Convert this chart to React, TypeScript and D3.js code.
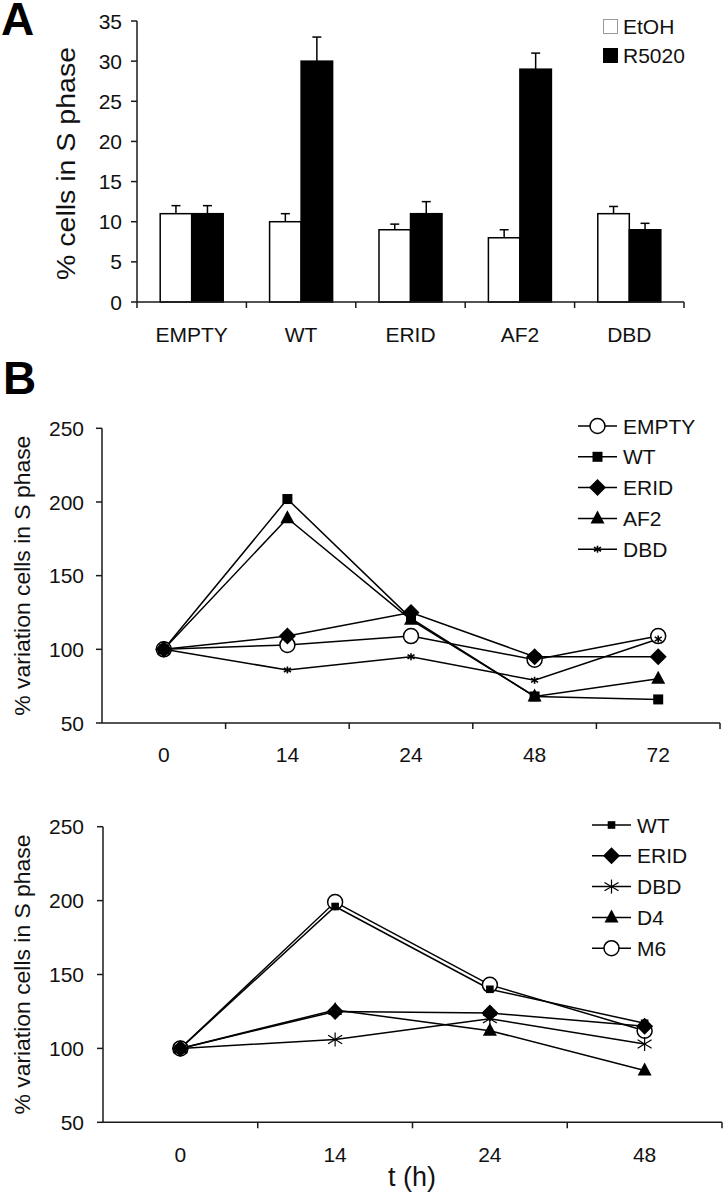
import React from "react";
import * as d3 from "d3";

// ---------- Panel A data ----------
const barCategories = ["EMPTY", "WT", "ERID", "AF2", "DBD"];
const etohValues = [11, 10, 9, 8, 11];
const etohErrors = [1, 1, 0.7, 1, 0.9];
const r5020Values = [11, 30, 11, 29, 9];
const r5020Errors = [1, 3, 1.5, 2, 0.8];
const barTicks = [0, 5, 10, 15, 20, 25, 30, 35];

// ---------- Panel B top data ----------
const topTimes = ["0", "14", "24", "48", "72"];
const topEMPTY = [100, 103, 109, 93, 109];
const topWT = [100, 202, 121, 68, 66];
const topERID = [100, 109, 125, 95, 95];
const topAF2 = [100, 189, 120, 68, 80];
const topDBD = [100, 86, 95, 79, 107];

// ---------- Panel B bottom data ----------
const botTimes = ["0", "14", "24", "48"];
const botWT = [100, 196, 140, 117];
const botERID = [100, 125, 124, 115];
const botDBD = [100, 106, 120, 103];
const botD4 = [100, 126, 112, 85];
const botM6 = [100, 199, 143, 112];

const lineTicks = [50, 100, 150, 200, 250];

const FONT = "'Liberation Sans', Arial, Helvetica, sans-serif";
const AX = "#1a1a1a";

type MarkerKind = "circle" | "square" | "smallsquare" | "diamond" | "triangle" | "smallstar" | "star";

function Marker({ kind, x, y }: { kind: MarkerKind; x: number; y: number }) {
  switch (kind) {
    case "circle":
      return <circle cx={x} cy={y} r={7.5} fill="#fff" stroke="#000" strokeWidth={1.5} />;
    case "square":
      return <rect x={x - 5} y={y - 5} width={10} height={10} fill="#000" />;
    case "smallsquare":
      return <rect x={x - 3.8} y={y - 3.8} width={7.6} height={7.6} fill="#000" />;
    case "diamond":
      return <path d={`M${x},${y - 8.5}L${x + 8.5},${y}L${x},${y + 8.5}L${x - 8.5},${y}Z`} fill="#000" />;
    case "triangle":
      return <path d={`M${x},${y - 8}L${x + 7},${y + 5}L${x - 7},${y + 5}Z`} fill="#000" />;
    case "smallstar": {
      const s = 3.5;
      return (
        <g stroke="#000" strokeWidth={1.6}>
          <line x1={x} y1={y - s} x2={x} y2={y + s} />
          <line x1={x - s} y1={y - s * 0.6} x2={x + s} y2={y + s * 0.6} />
          <line x1={x - s} y1={y + s * 0.6} x2={x + s} y2={y - s * 0.6} />
        </g>
      );
    }
    case "star": {
      const s = 7;
      return (
        <g stroke="#000" strokeWidth={1.2}>
          <line x1={x} y1={y - s} x2={x} y2={y + s} />
          <line x1={x - s} y1={y - s * 0.6} x2={x + s} y2={y + s * 0.6} />
          <line x1={x - s} y1={y + s * 0.6} x2={x + s} y2={y - s * 0.6} />
        </g>
      );
    }
  }
  return null;
}

function BarPanel() {
  const x = d3.scaleBand<string>().domain(barCategories).range([137, 684]).padding(0);
  const y = d3.scaleLinear().domain([0, 35]).range([302, 21]);
  const bw = x.bandwidth();
  const barW = bw * 0.288;
  const capW = 9;
  const bounds = [...barCategories.map((c) => x(c)!), 684];
  return (
    <g>
      {barCategories.map((c, i) => {
        const cx = x(c)! + bw / 2;
        const series = [
          { v: etohValues[i], e: etohErrors[i], fill: "#fff", x0: cx - barW },
          { v: r5020Values[i], e: r5020Errors[i], fill: "#000", x0: cx },
        ];
        return (
          <g key={c}>
            {series.map((s, j) => {
              const mx = s.x0 + barW / 2;
              return (
                <g key={j}>
                  <line x1={mx} x2={mx} y1={y(s.v)} y2={y(s.v + s.e)} stroke="#000" strokeWidth={1.5} />
                  <line x1={mx - capW / 2} x2={mx + capW / 2} y1={y(s.v + s.e)} y2={y(s.v + s.e)} stroke="#000" strokeWidth={1.5} />
                  <rect x={s.x0} y={y(s.v)} width={barW} height={y(0) - y(s.v)} fill={s.fill} stroke="#000" strokeWidth={1.5} />
                </g>
              );
            })}
          </g>
        );
      })}
      {/* y axis */}
      <line x1={137} x2={137} y1={y(35)} y2={y(0)} stroke={AX} strokeWidth={1.5} />
      {barTicks.map((t) => (
        <g key={t}>
          <line x1={131} x2={137} y1={y(t)} y2={y(t)} stroke={AX} strokeWidth={1.5} />
          <text x={122} y={y(t)} dy="0.36em" textAnchor="end" fontSize={21} fontFamily={FONT} fill="#111">
            {t}
          </text>
        </g>
      ))}
      {/* x axis */}
      <line x1={137} x2={684} y1={y(0)} y2={y(0)} stroke={AX} strokeWidth={1.5} />
      {bounds.map((b, i) => (
        <line key={i} x1={b} x2={b} y1={y(0)} y2={y(0) + 6} stroke={AX} strokeWidth={1.5} />
      ))}
      {barCategories.map((c) => (
        <text key={c} x={x(c)! + bw / 2} y={342} textAnchor="middle" fontSize={21} fontFamily={FONT} fill="#111">
          {c}
        </text>
      ))}
      <text
        transform={`translate(75,${(47 + 280) / 2}) rotate(-90)`}
        textAnchor="middle"
        fontSize={26}
        fontFamily={FONT}
        fill="#111"
        textLength={233}
        lengthAdjust="spacingAndGlyphs"
      >
        % cells in S phase
      </text>
      {/* legend */}
      <rect x={603.5} y={19.5} width={14} height={14} fill="#fff" stroke="#999" strokeWidth={1} />
      <text x={623} y={34} fontSize={21} fontFamily={FONT} fill="#111">EtOH</text>
      <rect x={603} y={48} width={15} height={15} fill="#000" />
      <text x={623} y={63} fontSize={21} fontFamily={FONT} fill="#111">R5020</text>
    </g>
  );
}

type Series = { name: string; values: number[]; kind: MarkerKind };

function LinePanel({
  times,
  series,
  x0,
  x1,
  yTop,
  yBot,
  tickLabelY,
  legendX,
  legendY,
  legendGap,
  showXTitle,
}: {
  times: string[];
  series: Series[];
  x0: number;
  x1: number;
  yTop: number;
  yBot: number;
  tickLabelY: number;
  legendX: number;
  legendY: number;
  legendGap: number;
  showXTitle: boolean;
}) {
  const x = d3.scaleBand<string>().domain(times).range([x0, x1]).padding(0);
  const y = d3.scaleLinear().domain([50, 250]).range([yBot, yTop]);
  const bw = x.bandwidth();
  const cx = (t: string) => x(t)! + bw / 2;
  const line = d3
    .line<number>()
    .x((_, i) => cx(times[i]))
    .y((d) => y(d));
  const bounds = [...times.slice(1).map((t) => x(t)!), x1];
  // open circles are drawn first so filled markers sit on top of them
  const markerOrder = [...series].sort((a, b) => (a.kind === "circle" ? -1 : 0) - (b.kind === "circle" ? -1 : 0));
  return (
    <g>
      {series.map((s) => (
        <path key={s.name} d={line(s.values)!} fill="none" stroke="#000" strokeWidth={1.5} />
      ))}
      {markerOrder.map((s) => (
        <g key={s.name + "m"}>
          {s.values.map((v, i) => (
            <Marker key={i} kind={s.kind} x={cx(times[i])} y={y(v)} />
          ))}
        </g>
      ))}
      {/* axes */}
      <line x1={x0} x2={x0} y1={yTop} y2={yBot} stroke={AX} strokeWidth={1.5} />
      {lineTicks.map((t) => (
        <g key={t}>
          <line x1={x0 - 6} x2={x0} y1={y(t)} y2={y(t)} stroke={AX} strokeWidth={1.5} />
          <text x={84} y={y(t)} dy="0.36em" textAnchor="end" fontSize={21} fontFamily={FONT} fill="#111">
            {t}
          </text>
        </g>
      ))}
      <line x1={x0} x2={x1} y1={yBot} y2={yBot} stroke={AX} strokeWidth={1.5} />
      {bounds.map((b, i) => (
        <line key={i} x1={b} x2={b} y1={yBot} y2={yBot + 6} stroke={AX} strokeWidth={1.5} />
      ))}
      {times.map((t) => (
        <text key={t} x={cx(t)} y={tickLabelY} textAnchor="middle" fontSize={21} fontFamily={FONT} fill="#111">
          {t}
        </text>
      ))}
      <text
        transform={`translate(30,${(yTop + yBot) / 2}) rotate(-90)`}
        textAnchor="middle"
        fontSize={22}
        fontFamily={FONT}
        fill="#111"
        textLength={280}
        lengthAdjust="spacingAndGlyphs"
      >
        % variation cells in S phase
      </text>
      {showXTitle && (
        <text x={412} y={1186} textAnchor="middle" fontSize={27} fontFamily={FONT} fill="#111">
          t (h)
        </text>
      )}
      {/* legend */}
      {series.map((s, i) => {
        const ly = legendY + i * legendGap;
        return (
          <g key={s.name + "l"}>
            <line x1={legendX} x2={legendX + 39} y1={ly} y2={ly} stroke="#000" strokeWidth={1.5} />
            <Marker kind={s.kind} x={legendX + 19.5} y={ly} />
            <text x={legendX + 45} y={ly} dy="0.36em" fontSize={21} fontFamily={FONT} fill="#111">
              {s.name}
            </text>
          </g>
        );
      })}
    </g>
  );
}

export default function App() {
  const topSeries: Series[] = [
    { name: "EMPTY", values: topEMPTY, kind: "circle" },
    { name: "WT", values: topWT, kind: "square" },
    { name: "ERID", values: topERID, kind: "diamond" },
    { name: "AF2", values: topAF2, kind: "triangle" },
    { name: "DBD", values: topDBD, kind: "smallstar" },
  ];
  const botSeries: Series[] = [
    { name: "WT", values: botWT, kind: "smallsquare" },
    { name: "ERID", values: botERID, kind: "diamond" },
    { name: "DBD", values: botDBD, kind: "star" },
    { name: "D4", values: botD4, kind: "triangle" },
    { name: "M6", values: botM6, kind: "circle" },
  ];
  return (
    <svg
      width={723}
      height={1199}
      style={{ position: "absolute", left: 0, top: 0, background: "#fff" }}
    >
      <rect width={723} height={1199} fill="#fff" />
      <text x={1} y={35} fontSize={46} fontWeight="bold" fontFamily={FONT} fill="#000">A</text>
      <text x={3} y={394} fontSize={46} fontWeight="bold" fontFamily={FONT} fill="#000">B</text>
      <BarPanel />
      <LinePanel
        times={topTimes}
        series={topSeries}
        x0={102}
        x1={720}
        yTop={428.3}
        yBot={723}
        tickLabelY={762}
        legendX={578}
        legendY={426}
        legendGap={30.8}
        showXTitle={false}
      />
      <LinePanel
        times={botTimes}
        series={botSeries}
        x0={103}
        x1={722}
        yTop={826.7}
        yBot={1122.3}
        tickLabelY={1162}
        legendX={592}
        legendY={825}
        legendGap={30.8}
        showXTitle={true}
      />
    </svg>
  );
}
